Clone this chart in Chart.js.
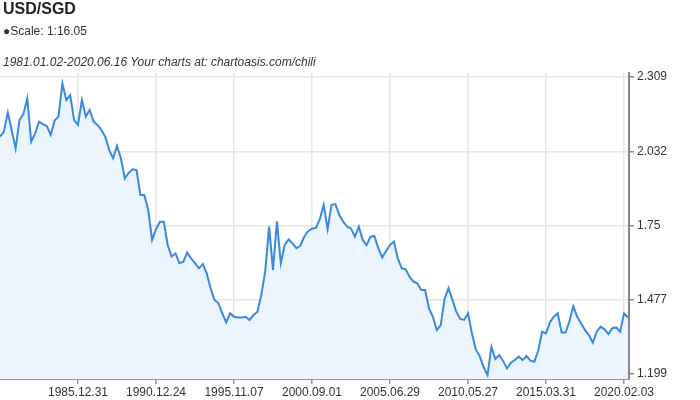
<!DOCTYPE html>
<html>
<head>
<meta charset="utf-8">
<script src="https://cdn.jsdelivr.net/npm/chart.js@4"></script>
<style>
  html, body { margin:0; padding:0; background:#fff; }
  #wrap { position:relative; width:700px; height:400px; font-family:"Liberation Sans", Arial, sans-serif; color:#222; }
  #c { position:absolute; left:0; top:0; }
  .t { position:absolute; white-space:nowrap; }
  #title { left:3px; top:0px; font-size:16px; font-weight:bold; color:#222; }
  #scale { left:3px; top:24px; font-size:12px; color:#333; }
  #sub { left:3px; top:55px; font-size:12px; font-style:italic; color:#333; }
</style>
</head>
<body>
<div id="wrap">
  <canvas id="c" width="700" height="400"></canvas>
  <div class="t" id="title">USD/SGD</div>
  <div class="t" id="scale">●Scale: 1:16.05</div>
  <div class="t" id="sub">1981.01.02-2020.06.16 Your charts at: chartoasis.com/chili</div>
</div>
<script>
// USD/SGD rate, sampled evenly along the period 1981.01.02 - 2020.06.16
const usdSgd = [
  2.086, 2.105, 2.176, 2.111, 2.042, 2.148, 2.171, 2.229, 2.067, 2.098,
  2.142, 2.133, 2.126, 2.092, 2.146, 2.161, 2.285, 2.223, 2.242, 2.148,
  2.130, 2.223, 2.161, 2.186, 2.142, 2.130, 2.111, 2.086, 2.036, 2.005,
  2.051, 2.005, 1.930, 1.951, 1.964, 1.961, 1.868, 1.868, 1.812, 1.700,
  1.740, 1.768, 1.768, 1.681, 1.638, 1.650, 1.613, 1.619, 1.653, 1.631,
  1.613, 1.594, 1.610, 1.575, 1.519, 1.476, 1.463, 1.426, 1.392, 1.426,
  1.413, 1.410, 1.410, 1.413, 1.401, 1.420, 1.432, 1.494, 1.582, 1.750,
  1.588, 1.770, 1.613, 1.681, 1.702, 1.687, 1.669, 1.678, 1.712, 1.733,
  1.742, 1.745, 1.778, 1.831, 1.740, 1.831, 1.834, 1.793, 1.768, 1.750,
  1.743, 1.712, 1.750, 1.700, 1.681, 1.712, 1.715, 1.669, 1.635, 1.659,
  1.681, 1.694, 1.631, 1.594, 1.590, 1.563, 1.544, 1.538, 1.513, 1.513,
  1.444, 1.413, 1.363, 1.382, 1.480, 1.520, 1.476, 1.432, 1.405, 1.401,
  1.426, 1.351, 1.291, 1.266, 1.225, 1.195, 1.300, 1.255, 1.270, 1.248,
  1.220, 1.241, 1.251, 1.264, 1.251, 1.266, 1.249, 1.245, 1.286, 1.357,
  1.351, 1.392, 1.413, 1.426, 1.354, 1.354, 1.395, 1.453, 1.413, 1.388,
  1.363, 1.345, 1.316, 1.357, 1.376, 1.366, 1.348, 1.370, 1.373, 1.357,
  1.425, 1.410
];
// sample index of each date tick and its label
const xTickIdx = [20, 40, 60, 80, 100, 120, 140, 160];
const xTickLabels = ["1985.12.31", "1990.12.24", "1995.11.07", "2000.09.01",
                     "2005.06.29", "2010.05.27", "2015.03.31", "2020.02.03"];
const yTicks = [1.199, 1.4765, 1.754, 2.0315, 2.309];
const yTickLabels = ["1.199", "1.477", "1.75", "2.032", "2.309"];
const yMin = 1.1803, yMax = 2.324;
const xMax = 161.28;

const points = usdSgd.map((v, i) => ({ x: i, y: v }));

new Chart(document.getElementById('c'), {
  type: 'line',
  data: {
    datasets: [{
      data: points,
      borderColor: '#3a89e0',
      borderWidth: 2,
      backgroundColor: '#ecf5fe',
      fill: 'start',
      pointRadius: 0,
      tension: 0
    }]
  },
  options: {
    responsive: false,
    animation: false,
    layout: { padding: { top: 73, left: 0, right: 0, bottom: 0 } },
    plugins: { legend: { display: false }, tooltip: { enabled: false }, title: { display: false } },
    scales: {
      x: {
        type: 'linear',
        min: 0,
        max: xMax,
        afterBuildTicks: s => { s.ticks = xTickIdx.map(v => ({ value: v })); },
        afterFit: s => { s.height = 21; },
        ticks: {
          autoSkip: false,
          maxRotation: 0,
          padding: 1,
          color: '#333',
          font: { family: '"Liberation Sans", Arial, sans-serif', size: 12 },
          callback: (v) => { const k = xTickIdx.indexOf(v); return k >= 0 ? xTickLabels[k] : ''; }
        },
        grid: { color: '#e6e6e6', lineWidth: 1.5, tickLength: 5, tickColor: '#999' },
        border: { display: true, color: '#999', width: 2 }
      },
      y: {
        type: 'linear',
        position: 'right',
        min: yMin,
        max: yMax,
        afterBuildTicks: s => { s.ticks = yTicks.map(v => ({ value: v })); },
        afterFit: s => { s.width = 71; },
        ticks: {
          padding: 3,
          color: '#333',
          font: { family: '"Liberation Sans", Arial, sans-serif', size: 12 },
          callback: (v) => { const k = yTicks.indexOf(v); return k >= 0 ? yTickLabels[k] : ''; }
        },
        grid: { color: '#e6e6e6', lineWidth: 1.5, tickLength: 5, tickColor: '#888' },
        border: { display: true, color: '#888', width: 2 }
      }
    }
  }
});
</script>
</body>
</html>
